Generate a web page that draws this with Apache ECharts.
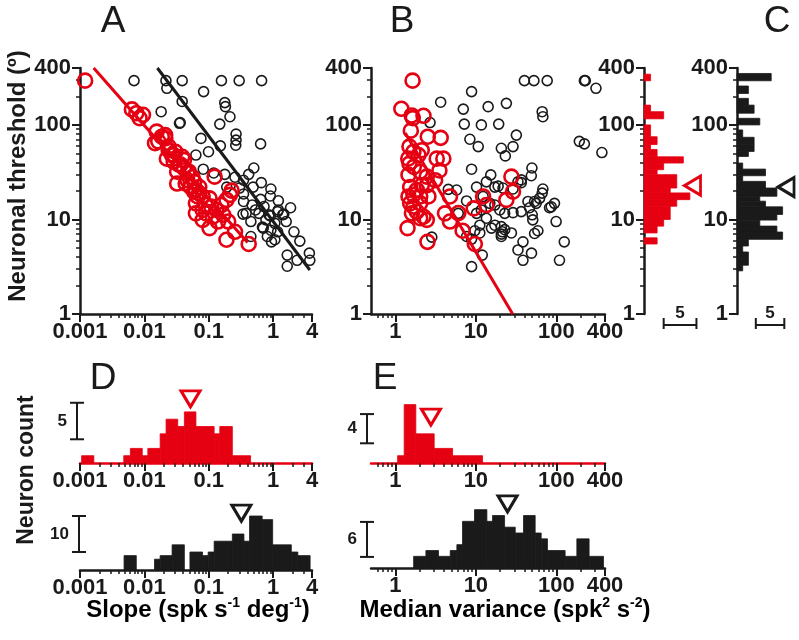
<!DOCTYPE html>
<html>
<head>
<meta charset="utf-8">
<script src="https://cdn.jsdelivr.net/npm/echarts@6/dist/echarts.min.js"></script>
<style>
html, body { margin: 0; padding: 0; background: #fff; }
#main { width: 799px; height: 640px; }
</style>
</head>
<body>
<div id="main"></div>
<script>
var RED = '#e50012';
var BLACK = '#1a1a1a';
var FONT = 'Liberation Sans';

// tick labels
var slopeTicks = [0.001, 0.01, 0.1, 1, 4];
var varianceTicks = [1, 10, 100, 400];
var thresholdTicks = [1, 10, 100, 400];

// panel A: slope vs neuronal threshold
var slopeBlack = [[0.0069,294],[0.0216,294],[0.0386,294],[0.157,294],[0.296,294],[0.66,294],
    [0.0223,244],[0.083,225],[0.0386,177],[0.177,172],[0.181,156],[0.0182,138],[0.213,122],
    [0.035,104],[0.036,106],[0.148,102],[0.265,80],[0.265,69],[0.262,61],[0.0755,72],[0.637,63],
    [0.151,60],[0.0989,52],[0.063,48],[0.5,35],[0.082,34],[0.119,31],[0.177,30],[0.416,30],
    [0.255,28],[0.346,26],[0.653,24.5],[0.488,22],[0.19,22],[0.3,21.5],[0.92,21],[0.346,18.6],
    [0.9,17.7],[0.637,16.3],[1.2,15.8],[0.346,15.5],[0.47,14.2],[0.72,13.7],[1.86,13.3],
    [0.53,12.6],[1.2,12.6],[1.17,12.1],[0.38,11.6],[0.34,11.4],[0.6,11.6],[0.86,11.2],[0.9,10.9],
    [1.46,11.4],[1.4,11.2],[1.59,9.5],[0.77,9.9],[0.45,9.5],[1.06,9.1],[0.7,8.1],[0.68,8.3],
    [0.92,7.7],[1.17,7.4],[2.1,7.4],[0.45,6.6],[0.81,6.6],[1.06,6.1],[0.94,5.8],[2.59,5.9],
    [1.65,4.2],[3.64,4.4],[2.35,3.7],[3.7,3.7],[1.65,3.2]];
var slopeRed = [[0.0012,294],[0.0064,146],[0.0075,133],[0.0095,128],[0.0084,118],[0.0155,85],
    [0.0186,75],[0.0211,72],[0.0164,67],[0.0146,64],[0.021,78],[0.0238,59],[0.0238,54],
    [0.0303,52],[0.0386,46],[0.0268,48],[0.0285,48],[0.0223,44],[0.0411,42.6],[0.0285,41],
    [0.0342,38],[0.0364,38],[0.0411,35],[0.0322,32],[0.049,32],[0.0464,31],[0.0557,28],
    [0.0592,25],[0.0464,26],[0.0437,24],[0.0322,24],[0.0525,22],[0.0711,22],[0.063,20.5],
    [0.0592,19.7],[0.0711,18.9],[0.0803,17.5],[0.0669,17.5],[0.1025,16.7],[0.063,14.8],
    [0.0907,14.2],[0.0803,12.6],[0.109,13.7],[0.131,12.6],[0.157,14.2],[0.188,16.1],[0.213,18.2],
    [0.123,28.4],[0.226,20.2],[0.0803,9.9],[0.1025,8.1],[0.139,9.5],[0.167,11.2],[0.2,9.5],
    [0.188,6.1],[0.255,7.4],[0.416,5.5],[0.0907,11.6],[0.1157,10.7],[0.063,11.6]];
var slopeFitBlack = [[0.0159,400],[3.7,2.92]];
var slopeFitRed = [[0.00163,400],[0.4,5.7]];

// panel B: median variance vs neuronal threshold
var varianceBlack = [[40,294],[52.5,294],[76.7,294],[222,294],[228,294],[309,244],[8.85,225],
    [3.66,174],[6.98,147],[14.2,156],[23.9,169],[66.5,138],[67.8,122],[2.7,106],[7.18,102],
    [11.7,100],[19.2,102],[31.8,78],[8.43,70.5],[10.7,59],[20.7,56.6],[28.9,59],[23.2,47],
    [192,67],[222,63],[366,51],[8.85,34],[49.6,35],[48.7,29],[36.6,26.2],[36.6,24.5],[15.3,29.6],
    [13.5,25],[10.2,22],[5.77,20.5],[17.2,22],[18.9,22.5],[21.7,21.5],[28.9,21],[33.3,25],
    [67.8,21],[66.5,19],[7.67,15.7],[12.3,17.5],[14.9,14.8],[17.2,14.2],[19.8,12.6],[22.8,11.6],
    [10.2,11.6],[11.7,12.6],[28.9,11.8],[36.6,12.1],[46.4,13.3],[56,14.8],[61.7,16.7],[82,13.3],
    [94.5,14.8],[44.3,15.5],[53.5,15.5],[50,11.2],[50.8,9.9],[13.5,10.3],[17.2,8.7],[20.7,8.4],
    [15.6,8.1],[11.2,8.7],[22.8,7.8],[9.7,7.6],[11.2,7.2],[21.3,7.4],[27.6,7.2],[20.7,7],
    [7.67,6.6],[8.85,6.2],[2.84,6.5],[20.7,6.6],[53.5,7.1],[58.8,7.6],[38.4,5.8],[33.3,4.76],
    [49,4.4],[125,5.8],[109,3.7],[12,4.2],[8.85,3.17],[38.4,3.7],[99,9.5],[86,13.6],[4.55,20.8],
    [6.05,11.6]];
var varianceRed = [[1.64,294],[1.19,148],[1.6,126],[1.65,118],[2.24,125],[1.56,87],[2.53,75],
    [3.66,73],[1.5,59],[1.68,52],[2.13,54],[1.94,48],[1.45,44],[1.5,39],[1.7,36],[3.27,44],
    [3.95,44],[3.53,33],[1.46,29.6],[2.04,32],[2.46,28.4],[3.12,26],[1.53,22],[1.85,20.5],
    [2.13,23],[2.46,23],[1.46,17.5],[1.68,18.2],[2.04,17.5],[2.58,17.5],[1.53,14.8],[2.04,14.8],
    [1.68,13.7],[1.61,11.6],[1.85,12.1],[2.24,10.7],[2.46,9.9],[2.04,10.3],[1.42,8.1],[2.51,5.8],
    [4.77,17.5],[4.14,11.6],[6.06,11.7],[4.77,9.5],[6.85,7.6],[9.7,5.5],[9.4,13.1],[12.3,17.5],
    [13.5,14.2],[23.9,16.1],[27.6,28.4],[28.9,19.7]];
var varianceFitRed = [[1.33,82],[28.6,1]];

// panel C: threshold histograms [lower edge, upper edge, neuron count]
var thresholdHistRed = [[293,344,1],[138,162,1],[116,138,3],[75,100,1],[62,75,2],[55,62,1],
    [46,55,2],[39.5,46,6],[33.6,39.5,3],[29.8,33.6,2],[21.5,29.8,5],[19.1,21.5,4],[16.2,19.1,7],
    [13.8,16.2,5],[10,13.8,4],[8.5,10,3],[7.2,8.5,2],[5.5,6.4,2]];
var thresholdHistBlack = [[293,350,6],[215,258,2],[162,191,2],[133,162,3],[100,117.5,4],
    [74,88.5,1],[61.6,74,3],[52.4,61.6,3],[46.4,52.4,2],[34.1,39.5,1],[29,34.1,5],[25.3,29,1],
    [21.5,25.3,5],[17.6,21.5,7],[15.6,17.6,4],[13.6,15.6,5],[11.3,13.6,8],[9.84,11.3,7],
    [8.51,9.84,4],[7.36,8.51,7],[6.16,7.36,8],[5.24,6.16,2],[4.53,5.24,1],[3.85,4.53,2],
    [3.28,3.85,2],[2.86,3.28,1]];
var thresholdMedianRed = [[7.4,22.8]];
var thresholdMedianBlack = [[8.6,22]];

// panel D: slope histograms
var slopeHistRed = [[0.00106,0.00164,1],[0.00478,0.00605,1],[0.00605,0.00926,2],[0.00926,0.0113,1],
    [0.0113,0.01755,2],[0.01755,0.0217,4],[0.0217,0.0329,6],[0.0329,0.0417,5],[0.0417,0.0631,7],
    [0.0631,0.121,5],[0.121,0.148,4],[0.148,0.232,5],[0.232,0.445,1]];
var slopeHistBlack = [[0.00483,0.00748,4],[0.01435,0.01755,3],[0.01755,0.0269,4],[0.0269,0.0417,7],
    [0.0509,0.0798,5],[0.0798,0.0977,4],[0.0977,0.121,5],[0.121,0.232,8],[0.232,0.351,10],
    [0.351,0.429,8],[0.429,0.673,15],[0.673,0.98,14],[0.98,1.91,7],[1.91,2.41,5],[2.41,3.74,4]];
var slopeMedianRed = [[0.052,8.8]];
var slopeMedianBlack = [[0.32,15.8]];

// panel E: median variance histograms
var varianceHistRed = [[1.07,1.29,1],[1.29,1.8,8],[1.8,3.04,4],[3.04,5.14,2],[5.14,12.1,1]];
var varianceHistBlack = [[1.69,2.4,2],[2.4,3.44,3],[3.44,4.81,2],[4.81,5.81,3],[5.81,6.83,4],
    [6.83,9.62,8],[9.62,13.7,10],[13.7,16.1,8],[16.1,22.7,9],[22.7,30.8,7],[30.8,39,6],
    [39,54.4,9],[54.4,64.6,6],[64.6,77.3,5],[77.3,128,3],[128,179,2],[179,254,5],[254,383,2]];
var varianceMedianRed = [[2.77,6.3]];
var varianceMedianBlack = [[24.7,11]];

function minorTicks(min, max)
{
    var ticks = [];
    for(var d = Math.pow(10, Math.floor(Math.log10(min))); d < max; d *= 10)
    {
        for(var k = 2; k < 10; k++)
        {
            var v = +(k * d).toPrecision(6);
            if(v > min && v < max) ticks.push(v);
        }
    }
    return ticks;
}

var grids = [];
var xAxes = [];
var yAxes = [];
var series = [];

function addGrid(left, top, width, height)
{
    grids.push({left: left, top: top, width: width, height: height});
    return grids.length - 1;
}

// two axes sharing one scale: short minor ticks + line, long major ticks + labels
function logAxes(list, dim, gridIndex, min, max, majors, lineColor, showLabels)
{
    var position = dim == 'x' ? 'bottom' : 'left';
    list.push({
        type: 'log', gridIndex: gridIndex, min: min, max: max, position: position,
        axisLine: {show: true, lineStyle: {color: lineColor, width: 2.5}},
        axisTick: {show: true, customValues: minorTicks(min, max), length: 4, lineStyle: {color: BLACK, width: 1.5}},
        axisLabel: {show: false},
        splitLine: {show: false}
    });
    var minorIndex = list.length - 1;
    list.push({
        type: 'log', gridIndex: gridIndex, min: min, max: max, position: position,
        axisLine: {show: false},
        axisTick: {show: true, customValues: majors, length: 8, lineStyle: {color: BLACK, width: 2}},
        axisLabel: {
            show: showLabels, customValues: majors, margin: dim == 'x' ? 7 : 9,
            color: BLACK, fontFamily: FONT, fontWeight: 'bold', fontSize: 22,
            formatter: function(v) { return String(+v.toPrecision(4)); }
        },
        splitLine: {show: false}
    });
    return minorIndex;
}

function countAxis(list, gridIndex, max)
{
    list.push({type: 'value', gridIndex: gridIndex, min: 0, max: max, show: false});
    return list.length - 1;
}

function scatterSeries(xi, yi, data, color, size, width)
{
    return {
        type: 'scatter', xAxisIndex: xi, yAxisIndex: yi, data: data,
        symbol: 'circle', symbolSize: size, silent: true,
        itemStyle: {color: 'rgba(0,0,0,0)', borderColor: color, borderWidth: width, opacity: 1}
    };
}

function lineSeries(xi, yi, data, color)
{
    return {
        type: 'line', xAxisIndex: xi, yAxisIndex: yi, data: data, showSymbol: false,
        silent: true, lineStyle: {color: color, width: 3}
    };
}

function histSeries(xi, yi, data, color, horizontal)
{
    return {
        type: 'custom', xAxisIndex: xi, yAxisIndex: yi, data: data, silent: true,
        encode: horizontal ? {x: 2, y: [0, 1]} : {x: [0, 1], y: 2},
        renderItem: function(params, api)
        {
            var lo = api.value(0), hi = api.value(1), n = api.value(2);
            var p0 = horizontal ? api.coord([0, lo]) : api.coord([lo, 0]);
            var p1 = horizontal ? api.coord([n, hi]) : api.coord([hi, n]);
            return {
                type: 'rect',
                shape: {
                    x: Math.min(p0[0], p1[0]), y: Math.min(p0[1], p1[1]),
                    width: Math.abs(p1[0] - p0[0]), height: Math.abs(p1[1] - p0[1])
                },
                style: {fill: color, stroke: color, lineWidth: 0.8}
            };
        }
    };
}

function medianSeries(xi, yi, data, color, rotate)
{
    return {
        type: 'scatter', xAxisIndex: xi, yAxisIndex: yi, data: data, silent: true,
        symbol: 'triangle', symbolSize: [19, 16], symbolRotate: rotate,
        itemStyle: {color: '#fff', borderColor: color, borderWidth: 3, opacity: 1}, z: 5
    };
}

// A
var gA = addGrid(80, 68, 232, 246);
var xA = logAxes(xAxes, 'x', gA, 0.001, 4, slopeTicks, BLACK, true);
var yA = logAxes(yAxes, 'y', gA, 1, 400, thresholdTicks, BLACK, true);
series.push(scatterSeries(xA, yA, slopeBlack, BLACK, 10, 1.6));
series.push(lineSeries(xA, yA, slopeFitBlack, BLACK));
series.push(scatterSeries(xA, yA, slopeRed, RED, 14, 2.6));
series.push(lineSeries(xA, yA, slopeFitRed, RED));

// B
var gB = addGrid(371, 68, 234, 246);
var xB = logAxes(xAxes, 'x', gB, 0.5, 400, varianceTicks, BLACK, true);
var yB = logAxes(yAxes, 'y', gB, 1, 400, thresholdTicks, BLACK, true);
series.push(scatterSeries(xB, yB, varianceBlack, BLACK, 10, 1.6));
series.push(scatterSeries(xB, yB, varianceRed, RED, 14, 2.6));
series.push(lineSeries(xB, yB, varianceFitRed, RED));

// C
var gCr = addGrid(644, 68, 59, 246);
var xCr = countAxis(xAxes, gCr, 9);
var yCr = logAxes(yAxes, 'y', gCr, 1, 400, thresholdTicks, BLACK, true);
series.push(histSeries(xCr, yCr, thresholdHistRed, RED, true));
series.push(medianSeries(xCr, yCr, thresholdMedianRed, RED, 90));

var gCb = addGrid(737, 68, 57, 246);
var xCb = countAxis(xAxes, gCb, 10);
var yCb = logAxes(yAxes, 'y', gCb, 1, 400, thresholdTicks, BLACK, true);
series.push(histSeries(xCb, yCb, thresholdHistBlack, BLACK, true));
series.push(medianSeries(xCb, yCb, thresholdMedianBlack, BLACK, 90));

// D
var gDr = addGrid(80, 390, 232, 73);
var xDr = logAxes(xAxes, 'x', gDr, 0.001, 4, slopeTicks, RED, true);
var yDr = countAxis(yAxes, gDr, 10);
series.push(histSeries(xDr, yDr, slopeHistRed, RED, false));
series.push(medianSeries(xDr, yDr, slopeMedianRed, RED, 180));

var gDb = addGrid(80, 498, 232, 72);
var xDb = logAxes(xAxes, 'x', gDb, 0.001, 4, slopeTicks, BLACK, true);
var yDb = countAxis(yAxes, gDb, 20);
series.push(histSeries(xDb, yDb, slopeHistBlack, BLACK, false));
series.push(medianSeries(xDb, yDb, slopeMedianBlack, BLACK, 180));

// E
var gEr = addGrid(371, 390, 234, 73);
var xEr = logAxes(xAxes, 'x', gEr, 0.5, 400, varianceTicks, RED, true);
var yEr = countAxis(yAxes, gEr, 10);
series.push(histSeries(xEr, yEr, varianceHistRed, RED, false));
series.push(medianSeries(xEr, yEr, varianceMedianRed, RED, 180));

var gEb = addGrid(371, 498, 234, 70);
var xEb = logAxes(xAxes, 'x', gEb, 0.5, 400, varianceTicks, BLACK, true);
var yEb = countAxis(yAxes, gEb, 12);
series.push(histSeries(xEb, yEb, varianceHistBlack, BLACK, false));
series.push(medianSeries(xEb, yEb, varianceMedianBlack, BLACK, 180));

var chart = echarts.init(document.getElementById('main'));
chart.setOption({
    animation: false,
    backgroundColor: '#fff',
    grid: grids,
    xAxis: xAxes,
    yAxis: yAxes,
    series: series
});

function textEl(x, y, text, size, weight, extra)
{
    var el = {
        type: 'text', x: x, y: y, silent: true,
        style: {text: text, fill: BLACK, font: weight + ' ' + size + 'px "' + FONT + '"',
                textAlign: 'center', textVerticalAlign: 'middle'}
    };
    for(var k in extra) el[k] = extra[k];
    return el;
}

function lineEl(x1, y1, x2, y2)
{
    return {type: 'line', silent: true, shape: {x1: x1, y1: y1, x2: x2, y2: y2},
            style: {stroke: BLACK, lineWidth: 2}};
}

// vertical scale bar on a count y axis
function scaleBarV(yi, x, c0, c1, label)
{
    var y0 = chart.convertToPixel({yAxisIndex: yi}, c0);
    var y1 = chart.convertToPixel({yAxisIndex: yi}, c1);
    return [lineEl(x, y0, x, y1), lineEl(x - 7, y0, x + 7, y0), lineEl(x - 7, y1, x + 7, y1),
            textEl(x - 10, (y0 + y1) / 2, label, 17, 'bold', {style: {text: label, fill: BLACK,
                font: 'bold 17px "' + FONT + '"', textAlign: 'right', textVerticalAlign: 'middle'}})];
}

// horizontal scale bar on a count x axis
function scaleBarH(xi, y, c0, c1, label)
{
    var x0 = chart.convertToPixel({xAxisIndex: xi}, c0);
    var x1 = chart.convertToPixel({xAxisIndex: xi}, c1);
    return [lineEl(x0, y, x1, y), lineEl(x0, y - 7, x0, y + 4), lineEl(x1, y - 7, x1, y + 4),
            textEl((x0 + x1) / 2, y - 12, label, 17, 'bold')];
}

var rich = {
    n: {fontFamily: FONT, fontWeight: 'bold', fontSize: 24, color: BLACK},
    s: {fontFamily: FONT, fontWeight: 'bold', fontSize: 14, color: BLACK, padding: [0, 0, 13, 0]}
};

var elements = [
    textEl(113, 22, 'A', 37, 'normal'),
    textEl(402, 22, 'B', 37, 'normal'),
    textEl(777, 22, 'C', 37, 'normal'),
    textEl(103, 379, 'D', 37, 'normal'),
    textEl(385, 379, 'E', 37, 'normal'),
    textEl(18, 176, 'Neuronal threshold (º)', 24, 'bold', {rotation: Math.PI / 2}),
    textEl(27, 470, 'Neuron count', 23, 'bold', {rotation: Math.PI / 2}),
    {type: 'text', x: 198, y: 610, silent: true,
     style: {text: '{n|Slope (spk s}{s|-1}{n| deg}{s|-1}{n|)}', rich: rich, textAlign: 'center', textVerticalAlign: 'middle'}},
    {type: 'text', x: 505, y: 610, silent: true,
     style: {text: '{n|Median variance (spk}{s|2}{n| s}{s|-2}{n|)}', rich: rich, textAlign: 'center', textVerticalAlign: 'middle'}}
];
elements = elements.concat(
    scaleBarH(xCr, 325, 3, 8, '5'),
    scaleBarH(xCb, 325, 3.3, 8.3, '5'),
    scaleBarV(yDr, 77, 3.25, 8.25, '5'),
    scaleBarV(yDb, 79, 5, 15, '10'),
    scaleBarV(yEr, 367, 2.7, 6.7, '4'),
    scaleBarV(yEb, 367, 1.9, 7.9, '6')
);
chart.setOption({graphic: {elements: elements}});
</script>
</body>
</html>
